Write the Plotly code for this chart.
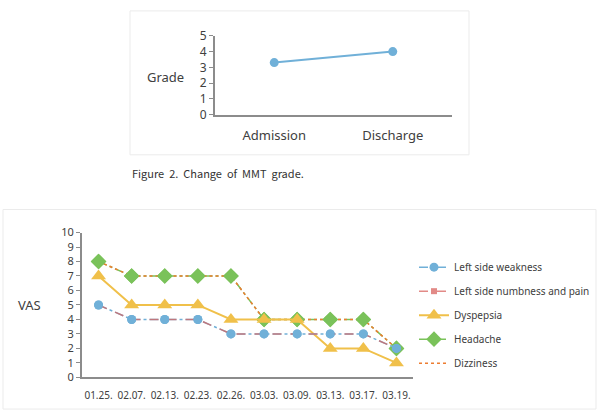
import plotly.graph_objects as go

W, H = 604, 418
def px(x): return x / W
def py(y): return 1 - y / H

# Top chart data
mmt_cats = ["Admission", "Discharge"]
mmt_grade = [3.3, 4.0]
mmt_ticks = [0, 1, 2, 3, 4, 5]

# Bottom chart data
dates = ["01.25.", "02.07.", "02.13.", "02.23.", "02.26.", "03.03.", "03.09.", "03.13.", "03.17.", "03.19."]
weakness = [5, 4, 4, 4, 3, 3, 3, 3, 3, 2]
numbness = [5, 4, 4, 4, 3, 3, 3, 3, 3, 2]
dyspepsia = [7, 5, 5, 5, 4, 4, 4, 2, 2, 1]
headache = [8, 7, 7, 7, 7, 4, 4, 4, 4, 2]
dizziness = [8, 7, 7, 7, 7, 4, 4, 4, 4, 2]
vas_ticks = list(range(0, 11))

FONT = "Noto Sans"
TXT = "#404040"
AX = "#8C8C8C"
BLUE = "#70B0D8"
RED = "#D9645F"
YELLOW = "#F0C04A"
GREEN = "#7AC25A"
ORANGE = "#ED7D31"

fig = go.Figure()

fig.add_trace(go.Scatter(x=mmt_cats, y=mmt_grade, mode="lines+markers",
                         line=dict(color=BLUE, width=2),
                         marker=dict(color=BLUE, size=9),
                         xaxis="x", yaxis="y", showlegend=False))

# Headache + Dizziness (overlapping)
fig.add_trace(go.Scatter(x=dates, y=headache, mode="lines+markers", name="Headache",
                         line=dict(color=GREEN, width=1.5, dash="dashdot"),
                         marker=dict(color=GREEN, symbol="diamond", size=12),
                         xaxis="x2", yaxis="y2", legendrank=4, legendgroup="g4"))
fig.add_trace(go.Scatter(x=dates, y=dizziness, mode="lines", name="Dizziness",
                         line=dict(color=ORANGE, width=1.5, dash="dot"),
                         xaxis="x2", yaxis="y2", legendrank=5, legendgroup="g5"))
fig.add_trace(go.Scatter(x=dates, y=headache, mode="markers", showlegend=False,
                         marker=dict(color=GREEN, symbol="diamond", size=12),
                         xaxis="x2", yaxis="y2", legendgroup="g4", hoverinfo="skip"))
# Dyspepsia
fig.add_trace(go.Scatter(x=dates, y=dyspepsia, mode="lines+markers", name="Dyspepsia",
                         line=dict(color=YELLOW, width=2),
                         marker=dict(color=YELLOW, symbol="triangle-up", size=13),
                         xaxis="x2", yaxis="y2", legendrank=3, legendgroup="g3"))
# Weakness + Numbness (overlapping)
fig.add_trace(go.Scatter(x=dates, y=weakness, mode="lines+markers", name="Left side weakness",
                         line=dict(color=BLUE, width=1.5, dash="dashdot"),
                         marker=dict(color=BLUE, size=9),
                         xaxis="x2", yaxis="y2", legendrank=1, legendgroup="g1"))
fig.add_trace(go.Scatter(x=dates, y=numbness, mode="lines+markers", name="Left side numbness and pain",
                         line=dict(color=RED, width=1.5, dash="dash"),
                         marker=dict(color=RED, symbol="square", size=6),
                         opacity=0.75,
                         xaxis="x2", yaxis="y2", legendrank=2, legendgroup="g2"))
fig.add_trace(go.Scatter(x=dates, y=weakness, mode="markers", showlegend=False,
                         marker=dict(color=BLUE, size=9),
                         xaxis="x2", yaxis="y2", legendgroup="g1", hoverinfo="skip"))

shapes = [
    dict(type="rect", xref="paper", yref="paper", x0=px(130), x1=px(469), y0=py(152), y1=py(2),
         line=dict(color="#EBEBEB", width=1), fillcolor="rgba(0,0,0,0)"),
    dict(type="rect", xref="paper", yref="paper", x0=px(3), x1=px(596), y0=py(417), y1=py(209),
         line=dict(color="#EBEBEB", width=1), fillcolor="rgba(0,0,0,0)"),
]

annotations = [
    dict(text="Grade", xref="paper", yref="paper", x=px(165), y=py(71), xanchor="center", yanchor="middle",
         showarrow=False, font=dict(family=FONT, size=13, color=TXT)),
    dict(text="Figure  2.  Change  of  MMT  grade.", xref="paper", yref="paper", x=px(130), y=py(171),
         xanchor="left", yanchor="middle", showarrow=False,
         font=dict(family="Liberation Sans Narrow, Noto Sans CJK KR", size=11, color="#333333")),
    dict(text="VAS", xref="paper", yref="paper", x=px(29), y=py(309), xanchor="center", yanchor="middle",
         showarrow=False, font=dict(family=FONT, size=13, color=TXT)),
]

fig.update_layout(
    width=W, height=H, margin=dict(l=0, r=0, t=0, b=0),
    paper_bgcolor="white", plot_bgcolor="white",
    font=dict(family=FONT, color=TXT),
    shapes=shapes, annotations=annotations,
    xaxis=dict(domain=[px(215), px(452)], type="category", range=[-0.5, 1.5],
               showline=True, linecolor=AX, linewidth=2, showgrid=False, ticks="",
               ticklabelstandoff=8,
               tickfont=dict(size=13, color=TXT), anchor="y"),
    yaxis=dict(domain=[py(110), py(28)], range=[0, 5], tickvals=mmt_ticks,
               showline=True, linecolor=AX, linewidth=2, showgrid=False, zeroline=False,
               ticks="outside", ticklen=4, tickcolor=AX, tickwidth=1,
               tickfont=dict(size=12, color=TXT), anchor="x"),
    xaxis2=dict(domain=[px(82), px(413)], type="category", range=[-0.5, 9.5],
                showline=True, linecolor=AX, linewidth=2, showgrid=False, ticks="",
                ticklabelstandoff=8,
                tickfont=dict(size=10, color=TXT), tickangle=0, anchor="y2"),
    yaxis2=dict(domain=[py(384), py(233)], range=[0, 10], tickvals=vas_ticks,
                showline=True, linecolor=AX, linewidth=2, showgrid=False, zeroline=False,
                ticks="outside", ticklen=4, tickcolor=AX, tickwidth=1,
                tickfont=dict(size=11, color=TXT), anchor="x2"),
    legend=dict(x=px(414), y=py(254), xanchor="left", yanchor="top",
                font=dict(size=10, color=TXT, family=FONT), tracegroupgap=5,
                itemwidth=30, bgcolor="rgba(0,0,0,0)"),
)

fig.write_html("out.html")
